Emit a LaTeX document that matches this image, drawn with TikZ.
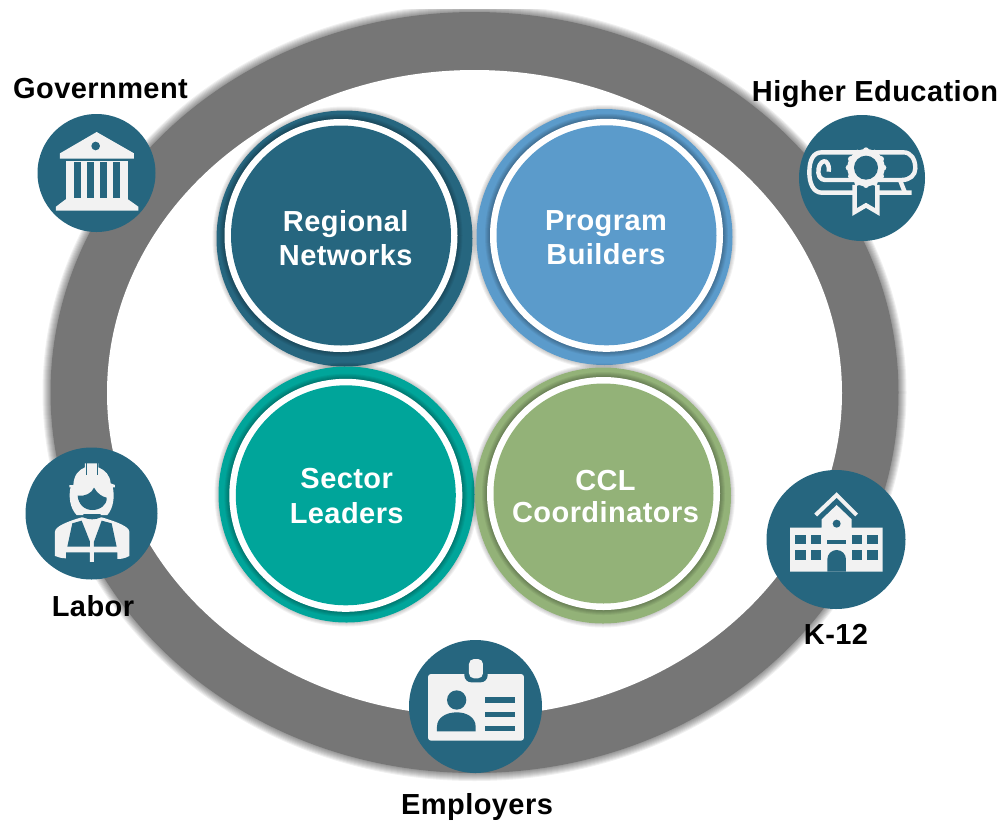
\documentclass[tikz,border=0pt]{standalone}
\usepackage{fontspec}
\setmainfont{Liberation Sans}[LetterSpace=1.5]
\usetikzlibrary{shapes.geometric}
\definecolor{teal}{HTML}{26667F}
\definecolor{prog}{HTML}{5B9BCB}
\definecolor{sect}{HTML}{00A59A}
\definecolor{ccl}{HTML}{93B278}
\definecolor{band}{HTML}{767676}
\definecolor{icon}{HTML}{F2F2F2}
\newcommand{\softhalo}[6]{% x y rx ry n opacity
  \foreach \k in {1,...,#5}{
    \fill[black,opacity=#6] (#1,#2) ellipse [x radius=#3+\k, y radius=#4+\k];
  }}
\newcommand{\ls}{\rule[-6pt]{0pt}{24pt}}
\tikzset{
  disc/.style={circle,inner sep=0pt,outer sep=0pt,draw=none},
  badge/.style={disc,fill=teal},
  lab/.style={font=\fontsize{29}{33}\selectfont\bfseries,text=black,inner sep=0pt,anchor=base},
  ic/.style={fill=icon,draw=none},
  hole/.style={fill=teal,draw=none},
  stroke/.style={draw=icon,line width=4.4pt,fill=none},
}
\begin{document}
\begin{tikzpicture}[x=1pt,y=-1pt]
\useasboundingbox (0,0) rectangle (1005,823);
\fill[white] (0,0) rectangle (1005,823);
% ring
\begin{scope}
\clip (0,9) rectangle (1005,823);
\softhalo{474.5}{392.5}{424}{380.5}{8}{0.06}
\end{scope}
\node[ellipse,inner sep=0pt,fill=band,minimum width=848,minimum height=761] (ringouter) at (474.5,392.5) {};
\node[ellipse,inner sep=0pt,fill=white,minimum width=735,minimum height=646] (ringinner) at (474.5,393) {};
% main circles: name/outer xy/inner xy/text xy/skip/colour/lines
\foreach \n/\ox/\oy/\ix/\iy/\tx/\ty/\s/\c/\la/\lb in {
  regional/344.5/238.5/341/235.5/345.7/241.2/34/teal/Regional/Networks,
  program/604.5/237/606.5/235.3/606/240.5/33.6/prog/Program/Builders,
  sector/346.5/494.5/345.8/495.3/346.7/498.7/35/sect/Sector/Leaders,
  coord/603/495.5/603.5/493.5/605.5/499.3/32/ccl/CCL/Coordinators}{
  \softhalo{\ox}{\oy}{128}{128}{4}{0.05}
  \node[disc,fill=\c,minimum size=256] (\n outer) at (\ox,\oy) {};
  \softhalo{\ix}{\iy}{116.5}{116.5}{5}{0.055}
  \node[disc,fill=white,minimum size=233] (\n ring) at (\ix,\iy) {};
  \node[disc,fill=\c,minimum size=220] (\n) at (\ix,\iy) {};
  \node[inner sep=0pt,align=center,text=white,font=\fontsize{29}{\s}\selectfont\bfseries] (\n text) at (\tx,\ty) {\la\ls\\\lb\ls};
}
% badges
\node[badge,minimum size=118] (gov) at (96.5,173) {};
\node[badge,minimum size=126] (high) at (862,178) {};
\node[badge,minimum size=132] (labor) at (91.5,513.5) {};
\node[badge,minimum size=139] (k12) at (836,539.5) {};
\node[badge,minimum size=133] (emp) at (475.5,706.5) {};
% government icon
\begin{scope}[shift={(0,60)},x=0.3333pt,y=-0.3333pt]
\fill[ic] (290,216) -- (180,280) -- (180,296) -- (402,296) -- (402,280) -- cycle;
\fill[hole] (287,258) circle [radius=13];
\fill[ic] (198,303) rectangle (384,420);
\foreach \a in {222,262,300,340}{\fill[hole] (\a,305) rectangle (\a+21,415);}
\fill[ic] (197,418) -- (384,418) -- (415,440) -- (415,452) -- (168,452) -- (168,440) -- cycle;
\end{scope}
% higher education icon
\begin{scope}[shift={(780,100)},x=0.3333pt,y=-0.3333pt]
\draw[stroke,line join=round] (395,278) -- (125,278) .. controls (100,278) and (88,250) .. (88,217) .. controls (88,180) and (100,157) .. (125,157) -- (370,157) .. controls (395,157) and (406,180) .. (406,205) .. controls (406,225) and (390,240) .. (365,240) -- (135,240) .. controls (120,240) and (112,225) .. (116,205) .. controls (118,190) and (130,180) .. (138,185) .. controls (146,192) and (148,205) .. (146,215);
\draw[stroke] (360,240) -- (375,278);
\draw[draw=icon,line width=4.4pt,fill=teal,line join=miter] (224,255) -- (224,336) -- (258,316) -- (292,336) -- (292,255);
\fill[ic] (258,203) circle [radius=56];
\foreach \a in {0,30,...,330}{\fill[ic] (258,203) ++(\a:52) circle [radius=9];}
\fill[hole] (258,203) circle [radius=36];
\end{scope}
% labor icon
\begin{scope}[shift={(10,430)},x=0.3333pt,y=-0.3333pt]
\fill[ic] (135,305) .. controls (135,290) and (170,275) .. (215,262) -- (275,262) .. controls (320,275) and (358,290) .. (358,305) -- (358,378) .. controls (345,385) and (335,387) .. (322,387) -- (322,367) -- (252,367) -- (252,396) -- (240,396) -- (240,367) -- (168,367) -- (168,385) .. controls (155,385) and (145,382) .. (135,378) -- cycle;
\fill[ic] (182,170) .. controls (175,200) and (180,235) .. (200,255) -- (292,255) .. controls (310,235) and (315,200) .. (308,170) -- cycle;
\fill[ic] (190,165) .. controls (192,135) and (205,120) .. (225,112) -- (225,100) -- (265,100) -- (265,112) .. controls (285,120) and (300,135) .. (302,160) -- (315,165) -- (315,172) -- (178,172) -- (178,165) -- cycle;
\fill[hole] (203,197) .. controls (225,200) and (245,190) .. (252,173) .. controls (262,190) and (275,200) .. (290,203) .. controls (292,225) and (270,240) .. (247,240) .. controls (222,240) and (205,222) .. (203,197) -- cycle;
\fill[hole] (187,280) -- (172,350) -- (240,350) -- (240,335) -- (215,272) -- cycle;
\fill[hole] (305,280) -- (320,350) -- (252,350) -- (252,335) -- (275,272) -- cycle;
\fill[hole] (220,252) -- (272,252) -- (272,262) .. controls (258,270) and (235,270) .. (220,262) -- cycle;
\fill[hole] (228,98) rectangle (231,135);
\fill[hole] (261,98) rectangle (264,135);
\end{scope}
% k-12 icon
\begin{scope}[shift={(750,460)},x=0.3333pt,y=-0.3333pt]
\draw[draw=icon,line width=4pt,fill=none,line join=miter] (197,165) -- (260,105) -- (320,165);
\fill[ic] (120,203) -- (215,203) -- (215,178) -- (260,135) -- (305,178) -- (305,203) -- (398,203) -- (398,335) -- (120,335) -- cycle;
\fill[hole] (260,191) circle [radius=12];
\foreach \a/\b in {135/168,182/213,305/337,351/383}{
  \fill[hole] (\a,224) rectangle (\b,253);
  \fill[hole] (\a,270) rectangle (\b,300);
}
\fill[hole] (232,240) rectangle (288,253);
\fill[hole] (232,335) -- (232,298) arc [start angle=180,end angle=360,radius=28] -- (288,335) -- cycle;
\end{scope}
% employers icon
\begin{scope}[shift={(400,630)},x=0.3333pt,y=-0.3333pt]
\fill[ic,rounded corners=3pt] (84,132) rectangle (372,332);
\fill[hole,rounded corners=7pt] (193,100) rectangle (263,157);
\fill[ic,rounded corners=5pt] (207,87) rectangle (249,145);
\fill[hole] (170,210) circle [radius=29];
\fill[hole] (111,304) -- (111,290) .. controls (111,262) and (140,247) .. (170,247) .. controls (200,247) and (227,262) .. (227,290) -- (227,304) -- cycle;
\foreach \a in {202,246,288}{\fill[hole] (256,\a) rectangle (345,\a+16);}
\end{scope}
% labels
\node[lab] (tgov) at (100.5,98) {Government};
\node[lab] (thigh) at (875,101) {Higher Education};
\node[lab] (tlabor) at (93,616) {Labor};
\node[lab] (tk12) at (836,644) {K-12};
\node[lab] (temp) at (477,814) {Employers};
\end{tikzpicture}
\end{document}
